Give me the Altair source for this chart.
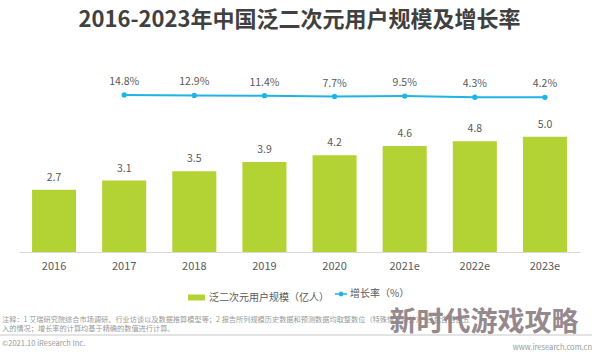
import altair as alt
import pandas as pd

years = ["2016", "2017", "2018", "2019", "2020", "2021e", "2022e", "2023e"]
users = [2.7, 3.1, 3.5, 3.9, 4.2, 4.6, 4.8, 5.0]
growth_years = ["2017", "2018", "2019", "2020", "2021e", "2022e", "2023e"]
growth = [14.8, 12.9, 11.4, 7.7, 9.5, 4.3, 4.2]

bar_name = "泛二次元用户规模（亿人）"
line_name = "增长率（%）"
title_text = "2016-2023年中国泛二次元用户规模及增长率"
note1 = "注释：1 艾瑞研究院综合市场调研、行业访谈以及数据推算模型等；2 报告所列规模历史数据和预测数据均取整数位（特殊情况除外），已包含四舍五"
note2 = "入的情况；增长率的计算均基于精确的数值进行计算。"
copyright_text = "©2021.10 iResearch Inc."
site_text = "www.iresearch.com.cn"
watermark_text = "新时代游戏攻略"

FONT = "Noto Sans CJK SC"
GREEN = "#b3d335"
CYAN = "#1fb4e4"

bar_df = pd.DataFrame({"year": years, "users": users, "series": bar_name})
line_df = pd.DataFrame({"year": growth_years, "growth": growth, "series": line_name})
line_df["label"] = [f"{v:.1f}%" for v in growth]

x_enc = alt.X(
    "year:N",
    sort=years,
    scale=alt.Scale(domain=years, paddingInner=0.372, paddingOuter=0.186),
    axis=alt.Axis(
        title=None, labelAngle=0, ticks=False, labelPadding=8,
        labelFontSize=11, labelColor="#595959", labelFont=FONT,
        domainColor="#d9d9d9", domainWidth=1, grid=False,
    ),
)

y_bar = alt.Y("users:Q", scale=alt.Scale(domain=[0, 8.33]), axis=None)
y_line = alt.Y("growth:Q", scale=alt.Scale(domain=[-709, 176]), axis=None)

bars = alt.Chart(bar_df).mark_bar(color=GREEN).encode(
    x=x_enc,
    y=y_bar,
    color=alt.Color(
        "series:N",
        scale=alt.Scale(domain=[bar_name], range=[GREEN]),
        legend=alt.Legend(
            title=None, orient="none", legendX=168, legendY=228,
            symbolType="M-1,-0.35H1V0.35H-1Z", symbolSize=289,
            labelFontSize=10, labelColor="#595959", labelFont=FONT,
            labelOffset=3, padding=0,
        ),
    ),
)
bar_labels = alt.Chart(bar_df).mark_text(
    dy=-12, fontSize=10.5, color="#595959", font=FONT
).encode(x=x_enc, y=y_bar, text=alt.Text("users:Q", format=".1f"))

left = alt.layer(bars, bar_labels)

line = alt.Chart(line_df).mark_line(color=CYAN, strokeWidth=2).encode(
    x=x_enc, y=y_line
)
points = alt.Chart(line_df).mark_point(filled=True, size=28, opacity=1).encode(
    x=x_enc,
    y=y_line,
    color=alt.Color(
        "series:N",
        scale=alt.Scale(domain=[line_name], range=[CYAN]),
        legend=alt.Legend(
            title=None, orient="none", legendX=316, legendY=228,
            symbolType="M-1,-0.12H1V0.12H-1Z M-0.4,0A0.4,0.4 0 1,1 0.4,0A0.4,0.4 0 1,1 -0.4,0Z",
            symbolSize=144, symbolStrokeWidth=0,
            labelFontSize=10, labelColor="#595959", labelFont=FONT,
            labelOffset=3, padding=0,
        ),
    ),
)
pct_labels = alt.Chart(line_df).mark_text(
    dy=-13, fontSize=10.5, color="#595959", font=FONT
).encode(x=x_enc, y=y_line, text="label:N")

right = alt.layer(line, points, pct_labels)

one = pd.DataFrame({"k": [0]})

def txt(text, x, y, size, color, align="left", weight="normal", opacity=1.0):
    return alt.Chart(one).mark_text(
        align=align, baseline="middle", fontSize=size, color=color,
        font=FONT, fontWeight=weight, opacity=opacity,
    ).encode(x=alt.value(x), y=alt.value(y), text=alt.value(text))

separator = alt.Chart(one).mark_rule(color="#c8c8c8", strokeWidth=1).encode(
    x=alt.value(-19), x2=alt.value(573), y=alt.value(275), y2=alt.value(275)
)

footer = alt.layer(
    txt(note1, -17, 260, 7.2, "#999999"),
    txt(note2, -17, 268.5, 7.2, "#999999"),
    separator,
    txt(copyright_text, -17, 284, 7.5, "#999999"),
    txt(site_text, 573, 287.5, 7.5, "#999999", align="right"),
    txt(watermark_text, 465, 263, 27, "#8d8084", align="center", weight="bold", opacity=0.92),
)

chart = alt.layer(left, right, footer).resolve_scale(
    y="independent", color="independent"
).properties(
    width=561,
    height=192,
    background="white",
    autosize=alt.AutoSizeParams(type="none"),
    padding={"left": 19, "top": 60, "right": 14, "bottom": 100},
    title=alt.Title(
        title_text, fontSize=22, font=FONT, fontWeight="bold",
        color="#404040", anchor="middle", offset=28,
    ),
).configure_view(stroke="transparent", strokeWidth=0)

chart.save("out.html", embed_options={"renderer": "svg", "actions": False})
